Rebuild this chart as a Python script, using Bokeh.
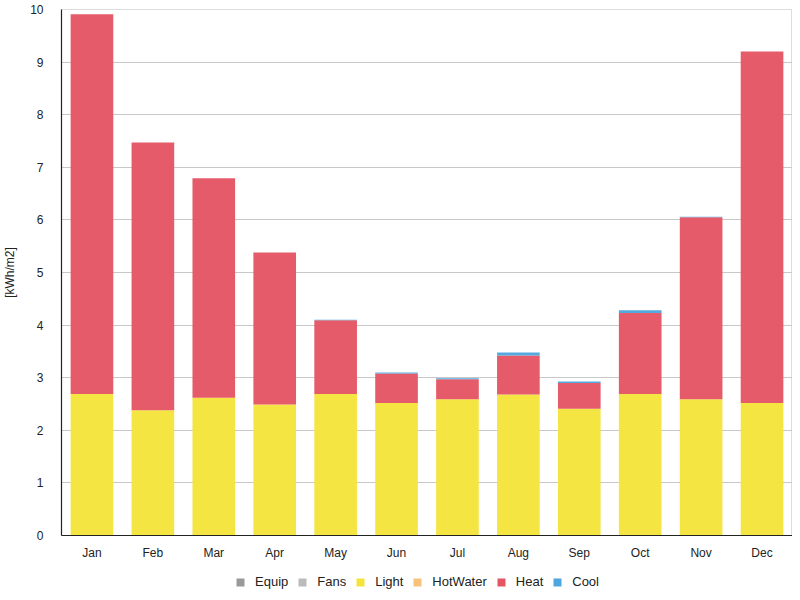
from bokeh.plotting import figure
from bokeh.layouts import column
from bokeh.models import ColumnDataSource, Legend, LegendItem, FixedTicker, Range1d
from bokeh.embed import file_html
from bokeh.resources import INLINE

months = ["Jan", "Feb", "Mar", "Apr", "May", "Jun", "Jul", "Aug", "Sep", "Oct", "Nov", "Dec"]
series = ["Equip", "Fans", "Light", "HotWater", "Heat", "Cool"]
colors = ["#999999", "#bbbbbb", "#f5e43c", "#f7c27a", "#e45664", "#4ea6de"]

equip = [0] * 12
fans = [0] * 12
light = [2.69, 2.38, 2.62, 2.49, 2.69, 2.52, 2.59, 2.68, 2.41, 2.69, 2.59, 2.52]
hotwater = [0] * 12
heat = [7.22, 5.09, 4.17, 2.89, 1.40, 0.56, 0.38, 0.74, 0.49, 1.54, 3.46, 6.68]
cool = [0, 0, 0, 0, 0.01, 0.02, 0.02, 0.06, 0.03, 0.05, 0.01, 0]

source = ColumnDataSource(dict(month=months, Equip=equip, Fans=fans, Light=light,
                               HotWater=hotwater, Heat=heat, Cool=cool))

p = figure(x_range=months, y_range=Range1d(0, 10),
           frame_width=731, frame_height=526,
           output_backend="svg", toolbar_location=None,
           min_border_top=9, min_border_right=0, min_border_left=60, min_border_bottom=26)

renderers = p.vbar_stack(series, x="month", width=0.7, color=colors, source=source,
                         line_color=None, fill_alpha=0.97)

p.yaxis.ticker = FixedTicker(ticks=list(range(0, 11)))
p.yaxis.axis_label = "[kWh/m2]"
p.yaxis.axis_label_text_font = "Liberation Sans"
p.yaxis.axis_label_text_font_style = "normal"
p.yaxis.axis_label_text_font_size = "12px"
p.yaxis.axis_label_text_color = "#222222"
p.yaxis.axis_label_standoff = 10
for ax in (p.xaxis, p.yaxis):
    ax.major_label_text_font = "Liberation Sans"
    ax.major_label_text_font_size = "12px"
    ax.major_label_text_color = "#222222"
    ax.major_tick_line_color = None
    ax.minor_tick_line_color = None
    ax.axis_line_color = "#222222"
    ax.axis_line_width = 1.2
p.yaxis.major_label_standoff = 12
p.xaxis.major_label_standoff = 4

p.xgrid.grid_line_color = None
p.ygrid.grid_line_color = "#c8c8c8"
p.ygrid.grid_line_width = 1
p.outline_line_color = "#dddddd"
p.outline_line_width = 1

# legend strip below the chart: swatch renderers sit outside the visible range
lg = figure(width=791, height=36, x_range=Range1d(0, 1), y_range=Range1d(0, 1),
            x_axis_type=None, y_axis_type=None, output_backend="svg",
            toolbar_location=None, min_border=0)
lg.grid.visible = False
lg.outline_line_color = None
swatches = [lg.rect(x=[-5], y=[-5], width=0.01, height=0.01, fill_color=c, line_color=None)
            for c in colors]
items = [LegendItem(label=s, renderers=[r]) for s, r in zip(series, swatches)]
legend = Legend(items=items, orientation="horizontal", location=(174, 9),
                label_text_font="Liberation Sans", label_text_font_size="13px",
                label_text_color="#222222", glyph_width=10, glyph_height=10,
                spacing=9, label_standoff=10, border_line_color=None,
                background_fill_alpha=0, padding=2, margin=0, label_height=14)
lg.add_layout(legend)

layout = column(p, lg, spacing=0)
open("out.html", "w").write(file_html(layout, INLINE))
